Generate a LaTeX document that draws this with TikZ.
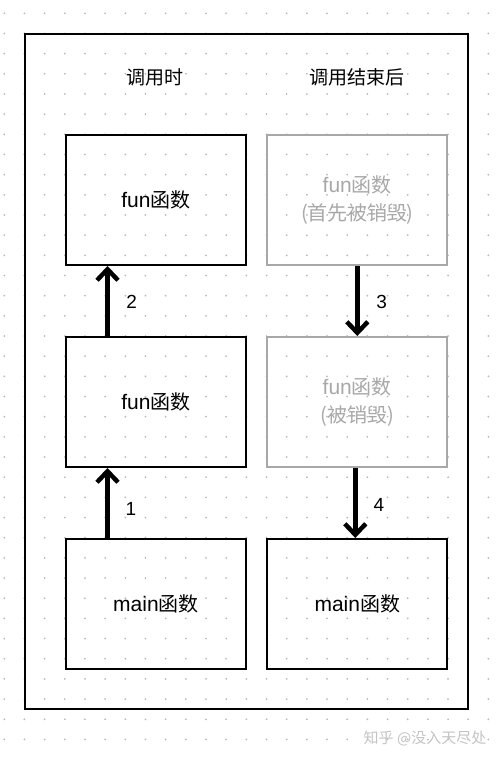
\documentclass[tikz,border=0pt]{standalone}
\usepackage{fontspec}
\setmainfont{Noto Sans CJK SC}
\newfontfamily\latf{Liberation Sans}
\usetikzlibrary{arrows.meta}
\definecolor{dotgray}{HTML}{BABABA}
\definecolor{fadegray}{HTML}{A8A8A8}
\definecolor{wmgray}{HTML}{C4C4C4}
\tikzset{
  x=1pt, y=-1pt,
  fbox/.style={draw=black, line width=2pt, minimum width=180pt, minimum height=130pt, inner sep=0pt, align=center, font=\fontsize{20}{28}\selectfont},
  gbox/.style={fbox, draw=fadegray, text=fadegray},
  title/.style={font=\fontsize{19}{23}\selectfont},
  lbl/.style={font=\latf\fontsize{19}{23}\selectfont},
  flow/.style={line width=4.5pt, -{Straight Barb[length=11pt,width=21pt,line width=4.5pt]}},
}
\begin{document}
\begin{tikzpicture}
\useasboundingbox (0,0) rectangle (500,757);
\fill[white] (0,0) rectangle (500,757);
\foreach \i in {0,...,24}{
  \foreach \j in {0,...,36}{
    \fill[dotgray] (4.3+20.17*\i, 13.3+20.17*\j) circle (1pt);
  }
}
\draw[line width=2pt] (25.3,34.3) rectangle (467.7,709.3);
\node[title] (t1) at (155,77) {调用时};
\node[title] (t2) at (357,77) {调用结束后};
\node[fbox] (a1) at (156,200) {{\latf\fontsize{21}{28}\selectfont fun}函数};
\node[fbox] (a2) at (156,402) {{\latf\fontsize{21}{28}\selectfont fun}函数};
\node[fbox] (a3) at (156,604) {{\latf\fontsize{21}{28}\selectfont main}函数};
\node[gbox] (b1) at (357.3,200) {{\latf\fontsize{21}{28}\selectfont fun}函数\\({\kern-1pt}首先被销毁{\kern-1pt})};
\node[gbox] (b2) at (357.3,402) {{\latf\fontsize{21}{28}\selectfont fun}函数\\(被销毁)};
\node[fbox] (b3) at (357.3,604) {{\latf\fontsize{21}{28}\selectfont main}函数};
\draw[flow] ([xshift=-48.5pt]a3.north) -- ([xshift=-48.5pt]a2.south);
\draw[flow] ([xshift=-48.5pt]a2.north) -- ([xshift=-48.5pt]a1.south);
\draw[flow] (b1.south) -- (b2.north);
\draw[flow] ([xshift=-2pt]b2.south) -- ([xshift=-2pt]b3.north);
\node[lbl] (n1) at (131,509) {1};
\node[lbl] (n2) at (131.7,302) {2};
\node[lbl] (n3) at (381.7,302) {3};
\node[lbl] (n4) at (379,505) {4};
\node[text=wmgray, font=\fontsize{15}{18}\selectfont] (wm) at (425,738) {知乎 @没入天尽处};
\end{tikzpicture}
\end{document}
